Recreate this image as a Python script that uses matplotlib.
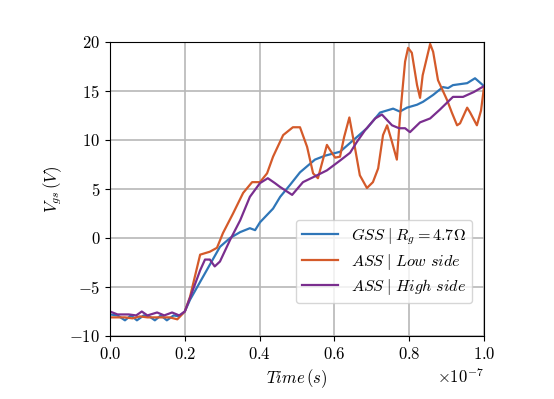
import matplotlib
matplotlib.use("Agg")
import matplotlib.pyplot as plt
import numpy as np

plt.rcParams.update({
    'font.family': 'serif',
    'font.serif': ['cmr10'],
    'mathtext.fontset': 'cm',
    'axes.formatter.use_mathtext': True,
    'font.size': 12,
})

# time in units of 1e-7 s
t_gss = [0, 0.02, 0.04, 0.056, 0.072, 0.09, 0.105, 0.12, 0.136, 0.152, 0.17, 0.185, 0.20,
         0.214, 0.294, 0.321, 0.348, 0.374, 0.388, 0.401, 0.436, 0.455, 0.481,
         0.508, 0.548, 0.575, 0.615, 0.642, 0.687, 0.722, 0.757, 0.775, 0.794,
         0.821, 0.837, 0.864, 0.890, 0.904, 0.917, 0.955, 0.976, 1.0]
v_gss = [-7.8, -7.9, -8.4, -7.9, -8.4, -7.9, -8.0, -8.4, -7.9, -8.4, -7.9, -8.0, -7.5,
         -6.3, -0.9, 0.0, 0.6, 1.0, 0.8, 1.6, 3.0, 4.2, 5.4,
         6.7, 8.0, 8.4, 8.8, 9.7, 11.2, 12.8, 13.2, 12.9, 13.3,
         13.6, 13.9, 14.6, 15.4, 15.3, 15.6, 15.8, 16.3, 15.5]

t_low = [0, 0.02, 0.04, 0.06, 0.08, 0.10, 0.12, 0.14, 0.16, 0.18, 0.20,
         0.214, 0.241, 0.267, 0.286, 0.302, 0.329, 0.356, 0.380, 0.401, 0.420,
         0.436, 0.463, 0.489, 0.508, 0.527, 0.543, 0.556, 0.580, 0.588, 0.602,
         0.615, 0.626, 0.640, 0.655, 0.668, 0.687, 0.703, 0.717, 0.730, 0.741,
         0.754, 0.767, 0.775, 0.789, 0.797, 0.807, 0.821, 0.829, 0.836, 0.856,
         0.864, 0.877, 0.901, 0.914, 0.928, 0.936, 0.955, 0.963, 0.981, 0.992, 1.0]
v_low = [-8.1, -8.1, -8.1, -8.2, -8.0, -8.1, -8.1, -8.1, -8.1, -8.3, -7.5,
         -6.0, -1.7, -1.4, -1.0, 0.5, 2.5, 4.6, 5.7, 5.7, 6.6,
         8.3, 10.5, 11.3, 11.3, 9.3, 6.6, 6.1, 9.5, 9.0, 8.2,
         8.3, 10.3, 12.3, 9.2, 6.4, 5.1, 5.7, 7.1, 10.5, 11.5,
         9.8, 8.0, 12.2, 18.0, 19.4, 18.9, 15.6, 14.3, 16.6, 19.8,
         19.0, 16.1, 14.1, 12.8, 11.5, 11.7, 13.3, 12.8, 11.5, 13.0, 15.4]

t_high = [0, 0.02, 0.05, 0.07, 0.085, 0.10, 0.126, 0.145, 0.166, 0.185, 0.20,
          0.214, 0.241, 0.254, 0.267, 0.280, 0.294, 0.321, 0.348, 0.374, 0.401,
          0.422, 0.441, 0.455, 0.487, 0.516, 0.543, 0.580, 0.615, 0.642, 0.660,
          0.682, 0.709, 0.727, 0.754, 0.773, 0.789, 0.802, 0.829, 0.856, 0.882,
          0.917, 0.944, 0.973, 1.0]
v_high = [-7.5, -7.8, -7.8, -7.9, -7.5, -7.9, -7.6, -7.9, -7.6, -7.9, -7.5,
          -6.1, -3.3, -2.2, -2.2, -2.9, -2.4, -0.2, 1.8, 4.2, 5.6,
          6.1, 5.6, 5.2, 4.4, 5.7, 6.2, 6.9, 7.9, 8.7, 9.8,
          11.0, 12.2, 12.6, 11.5, 11.2, 11.2, 10.8, 11.8, 12.2, 13.1,
          14.4, 14.4, 14.9, 15.5]

fig = plt.figure(figsize=(5.54, 3.99), dpi=100)
ax = fig.add_axes([110 / 554, 1 - 336 / 399, 374 / 554, 294 / 399])

ax.plot(np.array(t_gss) * 1e-7, v_gss, color='#2f76b8', lw=1.6,
        label=r'$GSS\;|\;R_g = 4.7\Omega$')
ax.plot(np.array(t_low) * 1e-7, v_low, color='#d45a2a', lw=1.6,
        label=r'$ASS\;|\;Low\ side$')
ax.plot(np.array(t_high) * 1e-7, v_high, color='#7a2e8e', lw=1.6,
        label=r'$ASS\;|\;High\ side$')

ax.set_xlim(0, 1e-7)
ax.set_ylim(-10, 20)
ax.grid(True, color='#b8b8b8', lw=1.2)
ax.set_xlabel(r'$Time\,(s)$', fontsize=12)
ax.set_ylabel(r'$V_{gs}\,(V)$', fontsize=12)
ax.legend(loc='lower right', bbox_to_anchor=(0.99, 0.085), fontsize=11.6,
          handlelength=2.2, labelspacing=0.3)

fig.savefig('out.png', dpi=100)
